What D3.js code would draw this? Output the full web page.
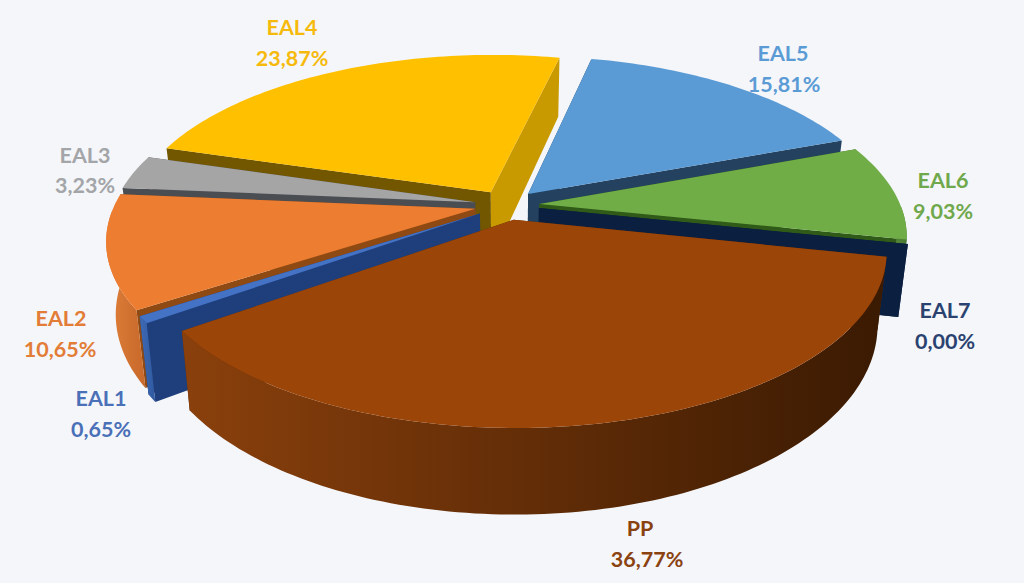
<!DOCTYPE html>
<html><head><meta charset="utf-8">
<script src="https://cdn.jsdelivr.net/npm/d3@7"></script>
<style>html,body{margin:0;padding:0;background:#f4f6fa;overflow:hidden}text{font-family:Lato,"Open Sans",sans-serif;font-weight:700}</style>
</head><body><svg id="c" width="1024" height="583"></svg>
<script>
const categories = ["PP","EAL1","EAL2","EAL3","EAL4","EAL5","EAL6","EAL7"];
const shares = [36.77,0.65,10.65,3.23,23.87,15.81,9.03,0.00];
const valueLabels = ["36,77%","0,65%","10,65%","3,23%","23,87%","15,81%","9,03%","0,00%"];
const topColors = ["#9c4509","#4472c4","#ed7d31","#a5a5a5","#ffc000","#5b9bd5","#70ad47","#0b1f40"];
const labelColors = ["#8a4210","#4a70b8","#e27c36","#a3a5a8","#f6ba0c","#5b9bd5","#70a84c","#2a4270"];
const startWallColors = ["#5a2a06","#1f3f7c","#8f4a14","#4a4d52","#735700","#24425f","#2f5a18","#0b1f40"];
const endWallColors = ["#5a2a06","#1f3f7c","#8f4a14","#4a4d52","#c89a00","#24425f","#2f5a18","#0b1f40"];
const rimLeft = ["#8a400c","#3f6ab4","#e0803a","#8a8a8a","#c89a00","#4a82b8","#5a8c3a","#0b1f40"];
const rimRight = ["#3a1a02","#2f5aa0","#c8682a","#7a7a7a","#b08800","#3a6a98","#4a7a30","#0b1f40"];

const W=1024,H=583,cx=507,cy=205,R=361,Ry=165.7,k=0.176,depth=70,shrink=0.024,explode=0.09;
const svg=d3.select("#c");
const defs=svg.append("defs");
svg.append("rect").attr("width",W).attr("height",H).attr("fill","#f4f6fa");

const pieGen=d3.pie().sort(null).value(d=>d).startAngle(102*Math.PI/180).endAngle((102+360)*Math.PI/180);
const arcs=pieGen(shares);
const xScale=d3.scaleLinear().domain([0,1]).range([cx,cx+R]);
const yScale=d3.scaleLinear().domain([0,1]).range([cy,cy+Ry]);

function project(u,v,z){
  const w=1/(1-k*v);
  return [xScale(u*w*(1-shrink*z)), yScale(v*w)+depth*z*w];
}
const line=d3.line();

function slicePaths(a){
  const t0=a.startAngle-Math.PI/2, t1=a.endAngle-Math.PI/2, m=(t0+t1)/2;
  const ou=explode*Math.cos(m), ov=explode*Math.sin(m);
  const n=Math.max(2,Math.ceil((t1-t0)/0.02));
  const ts=d3.range(n+1).map(i=>t0+(t1-t0)*i/n);
  const front=ts.filter(t=>Math.sin(t)>=0);
  const rimAt=(list,z)=>list.map(t=>project(ou+Math.cos(t),ov+Math.sin(t),z));
  const apex=z=>project(ou,ov,z);
  const edge=t=>[apex(0),project(ou+Math.cos(t),ov+Math.sin(t),0),project(ou+Math.cos(t),ov+Math.sin(t),1),apex(1)];
  return {top:[apex(0),...rimAt(ts,0)],rim:front.length>1?[...rimAt(front,0),...rimAt(front,1).reverse()]:null,w0:edge(t0),w1:edge(t1)};
}
const slices=arcs.map((a,i)=>({i,p:slicePaths(a)}));
const order=["EAL4","EAL5","EAL3","EAL6","EAL2","EAL7","EAL1","PP"].map(c=>categories.indexOf(c));

const g=svg.append("g");
order.forEach(i=>{
  const p=slices[i].p;
  const s=g.append("g").attr("class","slice").attr("data-cat",categories[i]);
  s.append("path").attr("d",line(p.w0)+"Z").attr("fill",startWallColors[i]);
  s.append("path").attr("d",line(p.w1)+"Z").attr("fill",endWallColors[i]);
  if(p.rim){
    const id="rim"+i;
    const xs=p.rim.map(d=>d[0]);
    const gr=defs.append("linearGradient").attr("id",id).attr("gradientUnits","userSpaceOnUse")
      .attr("x1",d3.min(xs)).attr("x2",d3.max(xs)).attr("y1",0).attr("y2",0);
    gr.append("stop").attr("offset",0).attr("stop-color",rimLeft[i]);
    gr.append("stop").attr("offset",1).attr("stop-color",rimRight[i]);
    s.append("path").attr("d",line(p.rim)+"Z").attr("fill",`url(#${id})`);
  }
  s.append("path").attr("d",line(p.top)+"Z").attr("fill",topColors[i]);
});

// label placement: [x of name, y of name, x of value, y of value] centre points
const labelPlacement={PP:[640,528,647,559],EAL1:[101,398,101,429],EAL2:[61,318,60,349],EAL3:[85,155,85,185],
  EAL4:[292,27,292,58],EAL5:[783,53,784,84],EAL6:[943,180,943,211],EAL7:[945,310,945,341]};
const lab=svg.append("g").attr("font-size",21.5).attr("text-anchor","middle");
categories.forEach((c,i)=>{
  const q=labelPlacement[c];
  lab.append("text").attr("x",q[0]).attr("y",q[1]).attr("dy","0.36em").attr("fill",labelColors[i]).text(c);
  lab.append("text").attr("x",q[2]).attr("y",q[3]).attr("dy","0.36em").attr("fill",labelColors[i]).text(valueLabels[i]);
});
</script></body></html>
